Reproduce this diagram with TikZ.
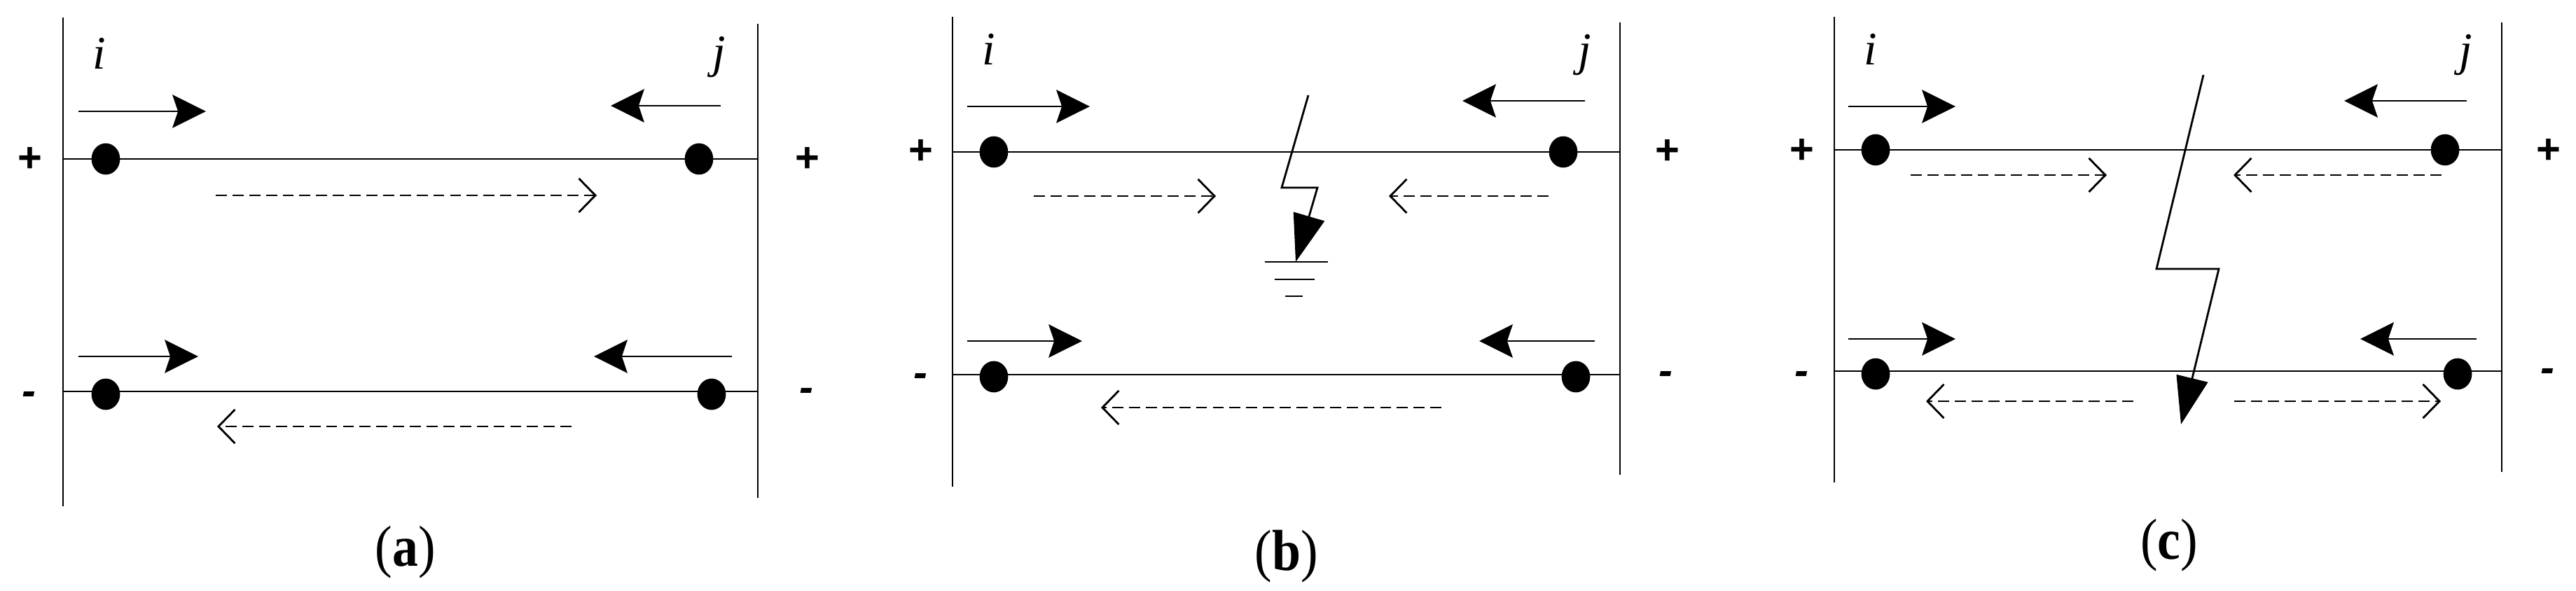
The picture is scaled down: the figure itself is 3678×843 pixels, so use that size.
\documentclass[tikz,border=0pt]{standalone}
\usepackage{fontspec}
\usepackage{graphicx}
\setmainfont{Liberation Serif}
\setsansfont{Liberation Sans}
\usetikzlibrary{arrows.meta,shapes.geometric}
\newcommand{\flow}[4]{\coordinate (#2s) at (#3);\coordinate (#2e) at (#4);\draw[#1] (#2s) -- (#2e);}
\newcommand{\captext}[1]{\scalebox{1}[1.12]{(\textbf{#1})}}
\tikzset{
  bar/.style={line width=1.55pt,black},
  bus/.style={line width=1.55pt,black},
  dot/.style={ellipse,fill=black,draw=none,minimum width=23.2pt,minimum height=25.5pt,inner sep=0pt},
  current/.style={line width=1.5pt,-{Stealth[length=27.2pt,width=27pt,inset=4.5pt]}},
  fault/.style={line width=1.6pt,-{Stealth[length=38.5pt,width=26pt,inset=0pt]}},
  dashflow/.style={line width=1.4pt,dash pattern=on 9pt off 4.6pt,-{Straight Barb[length=13.4pt,width=27.5pt,line width=1.6pt]}},
  bolt/.style={line width=1.6pt,line join=miter},
  earth/.style={line width=1.6pt},
  symplus/.style={font=\fontsize{34}{34}\selectfont\sffamily\bfseries,inner sep=0pt},
  symminus/.style={font=\fontsize{34}{34}\selectfont\sffamily\bfseries\itshape,inner sep=0pt},
  nodename/.style={font=\fontsize{38}{38}\selectfont\itshape,inner sep=0pt},
  caption/.style={font=\fontsize{42}{42}\selectfont,inner sep=0pt},
}
\begin{document}
\begin{tikzpicture}[x=0.02cm,y=-0.02cm]
\useasboundingbox (0,0) rectangle (3678,843);
% panel a
\flow{bar}{aL}{90,25}{90,723}
\flow{bar}{aR}{1082,34}{1082,711}
\coordinate (aT1) at (90,227);\coordinate (aT2) at (1082,227);
\coordinate (aB1) at (90,559);\coordinate (aB2) at (1082,559);
\draw[bus] (aT1) -- (aT2);\draw[bus] (aB1) -- (aB2);
\node[dot] (ad1) at (151,227) {};\node[dot] (ad2) at (998,227) {};
\node[dot] (ad3) at (151,563) {};\node[dot] (ad4) at (1016,563) {};
\node[nodename] (ai) at (142,76) {i};\node[nodename] (aj) at (1027,81) {j};
\flow{current}{a1}{112,159}{294,159}
\flow{current}{a2}{1029,151}{872,151}
\flow{current}{a3}{112,509}{283,509}
\flow{current}{a4}{1045,509}{848,509}
\flow{dashflow}{a5}{308,279}{852,279}
\flow{dashflow}{a6}{816,609}{310,609}
\node[symplus] (ap1) at (43,228) {+};\node[symplus] (ap2) at (1153,228) {+};
\node[symminus] (am1) at (41,569) {-};\node[symminus] (am2) at (1151,564) {-};
\node[caption] (acap) at (579,789) {\captext{a}};
% panel b
\flow{bar}{bL}{1360,24}{1360,695}
\flow{bar}{bR}{2313,32}{2313,678}
\coordinate (bT1) at (1360,217);\coordinate (bT2) at (2313,217);
\coordinate (bB1) at (1360,535);\coordinate (bB2) at (2313,535);
\draw[bus] (bT1) -- (bT2);\draw[bus] (bB1) -- (bB2);
\node[dot] (bd1) at (1419,217) {};\node[dot] (bd2) at (2232,217) {};
\node[dot] (bd3) at (1419,538) {};\node[dot] (bd4) at (2250,538) {};
\node[nodename] (bi) at (1412,70) {i};\node[nodename] (bj) at (2263,78) {j};
\flow{current}{b1}{1381,152}{1556,152}
\flow{current}{b2}{2263,144}{2088,144}
\flow{current}{b3}{1381,487}{1545,487}
\flow{current}{b4}{2277,487}{2112,487}
\flow{dashflow}{b5}{1476,280}{1736,280}
\flow{dashflow}{b6}{2211,280}{1983,280}
\flow{dashflow}{b7}{2058,582}{1572,582}
\coordinate (bf1) at (1868,136);\coordinate (bf2) at (1830,268);\coordinate (bf3) at (1881,268);\coordinate (bf4) at (1850,374);
\draw[bolt,fault] (bf1) -- (bf2) -- (bf3) -- (bf4);
\coordinate (bg1) at (1806,374);\coordinate (bg2) at (1896,374);
\coordinate (bg3) at (1820,399);\coordinate (bg4) at (1877,399);
\coordinate (bg5) at (1835,423);\coordinate (bg6) at (1860,423);
\draw[earth] (bg1) -- (bg2);\draw[earth] (bg3) -- (bg4);\draw[earth] (bg5) -- (bg6);
\node[symplus] (bp1) at (1315,217) {+};\node[symplus] (bp2) at (2381,217) {+};
\node[symminus] (bm1) at (1314,543) {-};\node[symminus] (bm2) at (2378,540) {-};
\node[caption] (bcap) at (1837,795) {\captext{b}};
% panel c
\flow{bar}{cL}{2619,24}{2619,689}
\flow{bar}{cR}{3572,32}{3572,674}
\coordinate (cT1) at (2619,214);\coordinate (cT2) at (3572,214);
\coordinate (cB1) at (2619,530);\coordinate (cB2) at (3572,530);
\draw[bus] (cT1) -- (cT2);\draw[bus] (cB1) -- (cB2);
\node[dot] (cd1) at (2678,214) {};\node[dot] (cd2) at (3491,214) {};
\node[dot] (cd3) at (2678,534) {};\node[dot] (cd4) at (3509,534) {};
\node[nodename] (ci) at (2671,70) {i};\node[nodename] (cj) at (3521,78) {j};
\flow{current}{c1}{2639,152}{2792,152}
\flow{current}{c2}{3522,144}{3347,144}
\flow{current}{c3}{2639,484}{2792,484}
\flow{current}{c4}{3536,484}{3370,484}
\flow{dashflow}{c5}{2728,250}{3008,250}
\flow{dashflow}{c6}{3486,250}{3189,250}
\flow{dashflow}{c7}{3046,573}{2750,573}
\flow{dashflow}{c8}{3190,573}{3485,573}
\coordinate (cf1) at (3146,107);\coordinate (cf2) at (3079,384);\coordinate (cf3) at (3168,384);\coordinate (cf4) at (3114,606);
\draw[bolt,fault] (cf1) -- (cf2) -- (cf3) -- (cf4);
\node[symplus] (cp1) at (2573,216) {+};\node[symplus] (cp2) at (3639,216) {+};
\node[symminus] (cm1) at (2572,540) {-};\node[symminus] (cm2) at (3637,536) {-};
\node[caption] (ccap) at (3097,779) {\captext{c}};
\end{tikzpicture}
\end{document}
